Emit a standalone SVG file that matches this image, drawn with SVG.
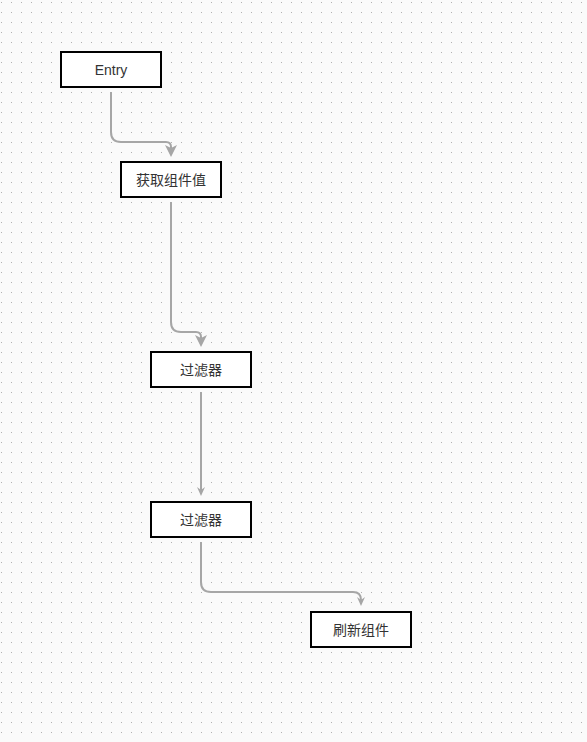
<svg xmlns="http://www.w3.org/2000/svg" width="587" height="742" viewBox="0 0 587 742">
<defs>
<pattern id="grid" x="0" y="0" width="10" height="10" patternUnits="userSpaceOnUse">
<rect x="1" y="2" width="1" height="1" fill="#b0b0b0"/>
</pattern>
</defs>
<style>
.node rect{fill:#fff;stroke:#000;stroke-width:2}
.node text{font-family:"Liberation Sans","Noto Sans CJK SC",sans-serif;font-size:14px;fill:#333;text-anchor:middle;dominant-baseline:central}
.edge{fill:none;stroke:#a6a6a6;stroke-width:2}
.head{fill:#a6a6a6}
</style>
<rect width="587" height="742" fill="#fafafa"/>
<rect width="587" height="742" fill="url(#grid)"/>
<g id="connectors">
<path class="edge" d="M111,92 V132 Q111,142 121,142 H166 Q171,142 171,147 V150"/>
<path class="head" d="M165,145 L171,148 L177,145 L171,157 Z"/>
<path class="edge" d="M171,202 V322 Q171,332 181,332 H196 Q201,332 201,337 V340"/>
<path class="head" d="M195,335 L201,338 L207,335 L201,347 Z"/>
<path class="edge" d="M201,392 V490"/>
<path class="head" d="M197,487 L201,490 L205,487 L201,496 Z"/>
<path class="edge" d="M201,542 V582 Q201,592 211,592 H353 Q361,592 361,600"/>
<path class="head" d="M357,597 L361,600 L365,597 L361,606 Z"/>
</g>
<g id="entry" class="node"><rect x="61" y="52" width="100" height="35"/><text x="111" y="69.5">Entry</text></g>
<g id="get-value" class="node"><rect x="121" y="162" width="100" height="35"/><text x="171" y="179.5">获取组件值</text></g>
<g id="filter1" class="node"><rect x="151" y="352" width="100" height="35"/><text x="201" y="369.5">过滤器</text></g>
<g id="filter2" class="node"><rect x="151" y="502" width="100" height="35"/><text x="201" y="519.5">过滤器</text></g>
<g id="refresh" class="node"><rect x="311" y="612" width="100" height="35"/><text x="361" y="629.5">刷新组件</text></g>
</svg>
